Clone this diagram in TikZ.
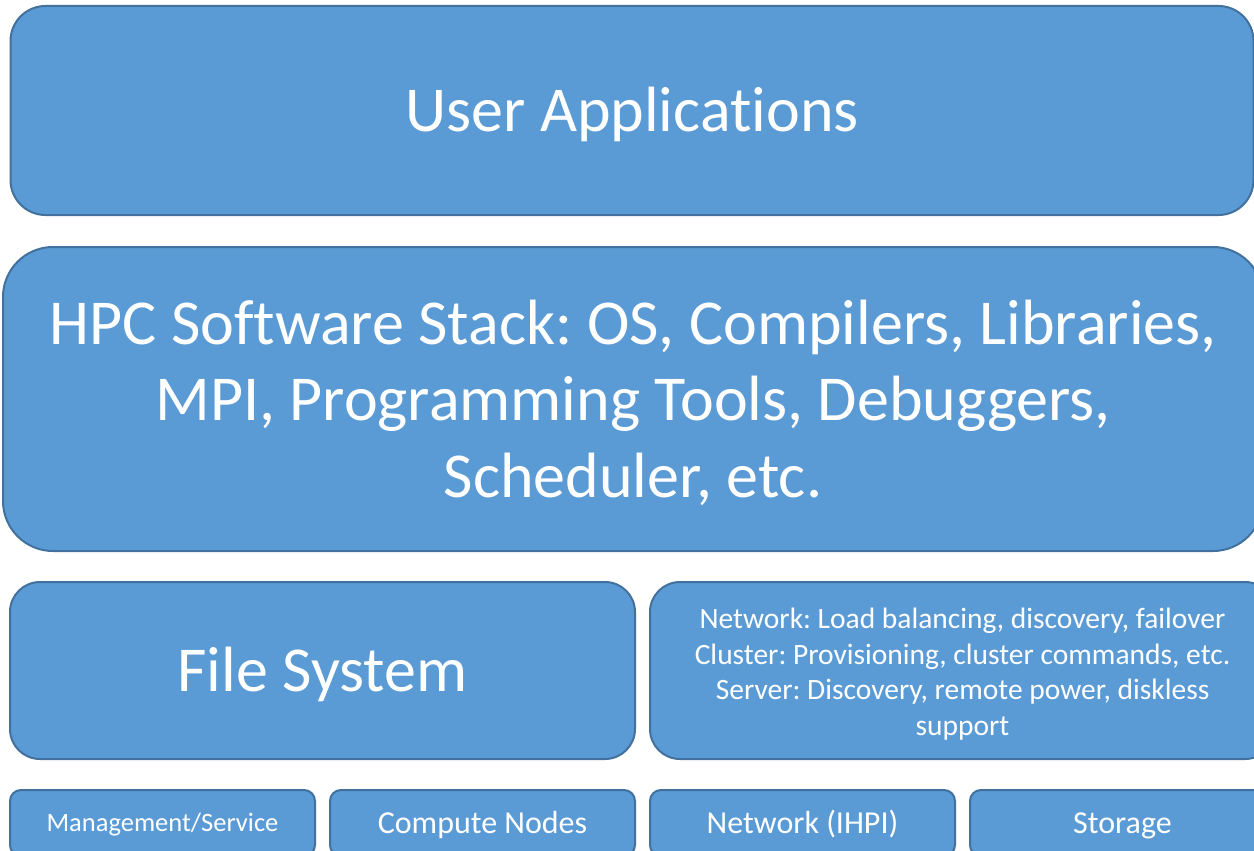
\documentclass[tikz,border=0pt]{standalone}
\usepackage{fontspec}
\setmainfont[Ligatures=NoCommon]{Carlito}
\frenchspacing
\definecolor{boxfill}{HTML}{5B9BD5}
\definecolor{boxline}{HTML}{41719C}
\tikzset{
  layer/.style={draw=boxline, fill=boxfill, line width=2pt, text=white,
    align=center, inner sep=0pt},
  big/.style={font={\fontsize{64}{76.5}\selectfont}},
  unit/.style={minimum width=305pt, minimum height=66pt, rounded corners=11pt,
    text height=20.6pt, text depth=0pt, font={\fontsize{32}{38}\selectfont}},
}
\begin{document}
\begin{tikzpicture}[x=1pt, y=-1pt]
  \useasboundingbox (0,0) rectangle (1254,851);
  \clip (0,0) rectangle (1254,851);

  \node (11) at (632,110.5) [layer, big, text height=41.2pt, text depth=0pt, minimum width=1243pt, minimum height=209pt, rounded corners=35pt] {User Applications};
  \node (21) at (633,399) [layer, big, minimum width=1260pt, minimum height=304pt, rounded corners=50pt]
    {\rule{0pt}{43.2pt}\smash{HPC Software Stack: OS, Compilers, Libraries,}\\ MPI, Programming Tools, Debuggers,\\ \smash{Scheduler, etc.}};

  \node (31) at (322.5,670.5) [layer, big, text height=41.2pt, text depth=0pt, minimum width=625pt, minimum height=177pt, rounded corners=30pt] {File System};
  \node (32) at (962.5,670.5) [layer, minimum width=625pt, minimum height=177pt, rounded corners=30pt,
    font={\fontsize{29.5}{35.5}\selectfont}]
    {\rule{0pt}{22.5pt}\smash{Network: Load balancing, discovery, failover}\\ Cluster: Provisioning, cluster commands, etc.\\ Server: Discovery, remote power, diskless\\ \smash{support}};

  \node (41) at (162.5,823) [layer, unit, text height=17.1pt, font={\fontsize{26.5}{32}\selectfont}] {Management/Service};
  \node (42) at (482.5,823) [layer, unit] {Compute Nodes};
  \node (43) at (802.5,823) [layer, unit] {Network (IHPI)};
  \node (44) at (1122.5,823) [layer, unit] {Storage};
\end{tikzpicture}
\end{document}
